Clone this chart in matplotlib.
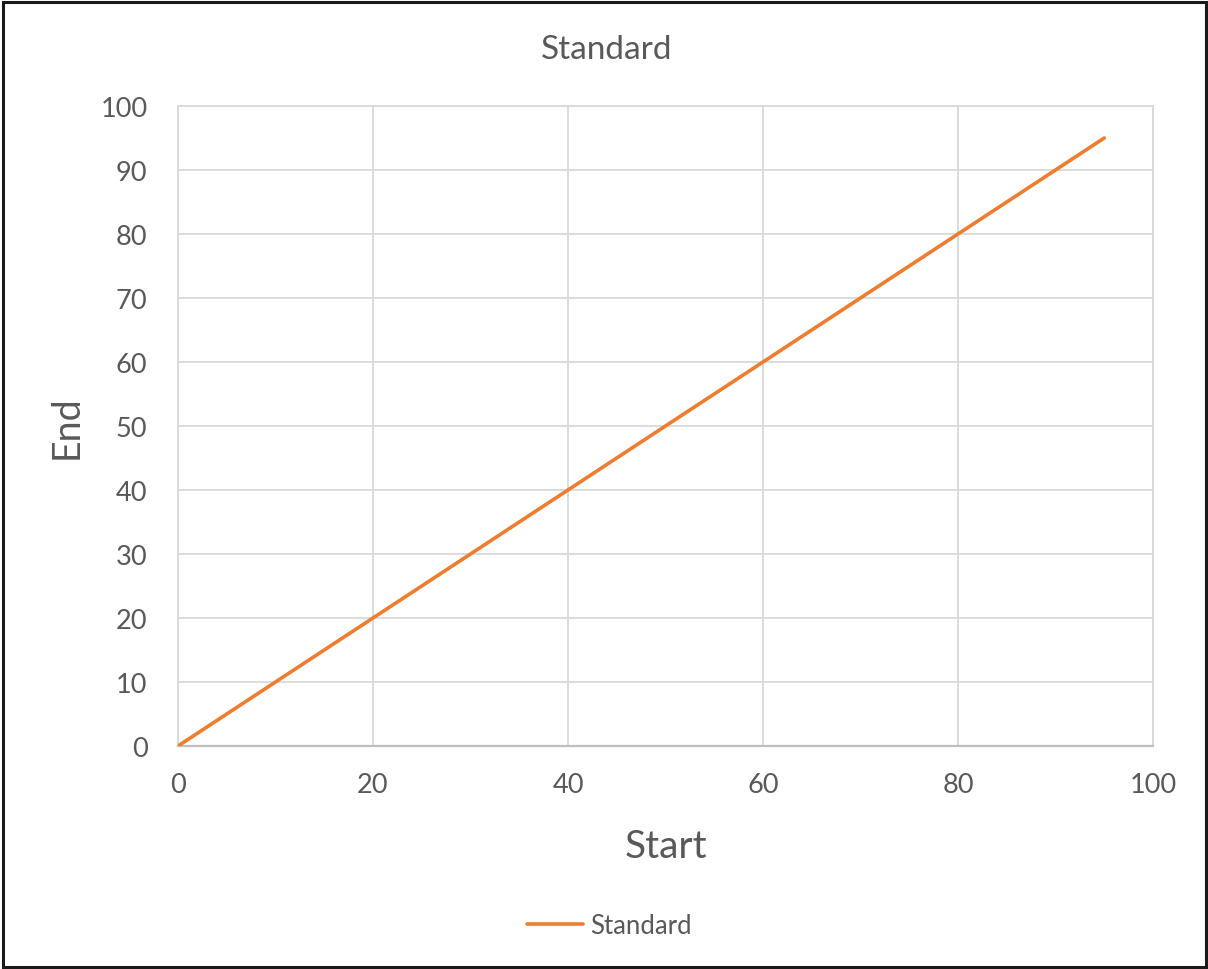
import matplotlib
matplotlib.use("Agg")
import matplotlib.pyplot as plt
from matplotlib.patches import Rectangle

start = [0, 10, 20, 30, 40, 50, 60, 70, 80, 90, 95]
end = [0, 10, 20, 30, 40, 50, 60, 70, 80, 90, 95]
series_name = "Standard"
chart_title = "Standard"
x_ticks = [0, 20, 40, 60, 80, 100]
y_ticks = [0, 10, 20, 30, 40, 50, 60, 70, 80, 90, 100]

plt.rcParams["font.family"] = ["Lato", "DejaVu Sans"]
text_color = "#595959"
grid_color = "#d9d9d9"

W, H = 1208, 970
fig = plt.figure(figsize=(W / 100, H / 100), dpi=100)

# plot area in pixel coordinates
left, right, top, bottom = 178, 1153, 107, 747
ax = fig.add_axes([left / W, 1 - bottom / H, (right - left) / W, (bottom - top) / H])

ax.plot(start, end, color="#ed7d31", linewidth=2.6, label=series_name,
        solid_capstyle="round", zorder=3)

ax.set_xlim(0, 100)
ax.set_ylim(0, 100)
ax.set_xticks(x_ticks)
ax.set_yticks(y_ticks)
ax.grid(True, color=grid_color, linewidth=1.3)
ax.set_axisbelow(True)
for side in ["top", "right", "left"]:
    ax.spines[side].set_color(grid_color)
    ax.spines[side].set_linewidth(1.3)
ax.spines["bottom"].set_color("#bfbfbf")
ax.spines["bottom"].set_linewidth(1.6)
ax.tick_params(axis="both", length=0, labelsize=19.5, labelcolor=text_color)
ax.tick_params(axis="x", pad=19)
ax.tick_params(axis="y", pad=22)

ax.set_xlabel("Start", fontsize=28, color=text_color, labelpad=22)
ax.set_ylabel("End", fontsize=27, color=text_color, labelpad=11)
fig.text(607 / W, 1 - 50 / H, chart_title, ha="center", va="center",
         fontsize=24, color=text_color)

leg = fig.legend(loc="center", bbox_to_anchor=(609 / W, 1 - 926 / H), frameon=False,
                 fontsize=18.5, handlelength=2.2, handletextpad=0.25, labelcolor=text_color)

# outer frame
fig.patches.append(Rectangle((2.5 / W, 2.5 / H), 1 - 5 / W, 1 - 5 / H,
                             transform=fig.transFigure, fill=False,
                             edgecolor="#1a1a1a", linewidth=2.2))

fig.savefig("out.png", dpi=100)
